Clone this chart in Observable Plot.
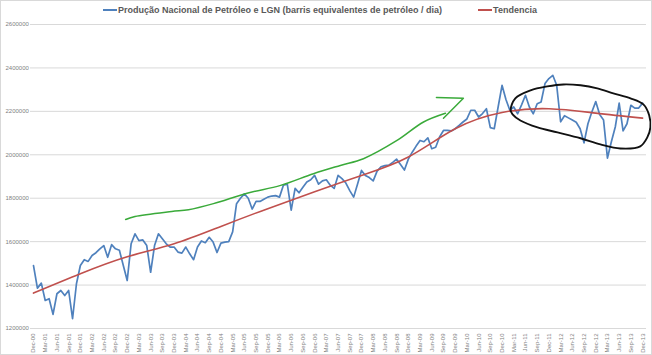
<!DOCTYPE html>
<html>
<head>
<meta charset="utf-8">
<script src="https://cdn.jsdelivr.net/npm/d3@7"></script>
<script src="https://cdn.jsdelivr.net/npm/@observablehq/plot@0.6"></script>
<style>
  html, body { margin: 0; padding: 0; background: #fff; }
  #wrap { position: relative; width: 652px; height: 355px; overflow: hidden; }
  #border { position: absolute; left: 0; top: 0; width: 650px; height: 353px; border: 1px solid #d9d9d9; pointer-events: none; }
  #legend { position: absolute; top: 5px; left: 103px; display: flex; align-items: center;
    font-family: "Liberation Sans", Arial, sans-serif; font-weight: bold; font-size: 9px; color: #595959; white-space: nowrap; }
  .sw { display: inline-block; width: 14px; height: 2px; margin-right: 1px; }
  svg { position: absolute; left: 0; top: 0; }
</style>
</head>
<body>
<div id="wrap">
  <div id="legend">
    <span class="sw" style="background:#4f81bd"></span><span id="l1">Produção Nacional de Petróleo e LGN (barris equivalentes de petróleo / dia)</span>
    <span class="sw" style="background:#c0504d; margin-left:36px"></span><span>Tendencia</span>
  </div>
  <div id="border"></div>
</div>
<script>
// Monthly production, Dec-00 (index 0) to Dec-13 (index 156)
const production = [
  1490000, 1386000, 1409000, 1329000, 1337000, 1265000, 1360000, 1375000, 1352000, 1375000,
  1245000, 1406000, 1490000, 1517000, 1509000, 1536000, 1549000, 1567000, 1582000, 1528000,
  1586000, 1567000, 1560000, 1490000, 1421000, 1590000, 1636000, 1605000, 1608000, 1582000,
  1459000, 1582000, 1636000, 1613000, 1590000, 1575000, 1575000, 1552000, 1547000, 1575000,
  1544000, 1517000, 1575000, 1603000, 1595000, 1620000, 1598000, 1550000, 1593000, 1598000,
  1600000, 1645000, 1775000, 1800000, 1820000, 1800000, 1750000, 1785000, 1785000, 1795000,
  1805000, 1810000, 1812000, 1805000, 1860000, 1865000, 1745000, 1845000, 1825000, 1850000,
  1875000, 1885000, 1905000, 1865000, 1880000, 1885000, 1860000, 1845000, 1905000, 1890000,
  1870000, 1835000, 1805000, 1865000, 1928000, 1905000, 1895000, 1880000, 1925000, 1945000,
  1950000, 1952000, 1965000, 1980000, 1955000, 1930000, 1980000, 2012000, 2040000, 2066000,
  2060000, 2078000, 2028000, 2035000, 2082000, 2112000, 2112000, 2110000, 2120000, 2135000,
  2151000, 2165000, 2205000, 2205000, 2174000, 2190000, 2212000, 2125000, 2120000, 2220000,
  2320000, 2255000, 2205000, 2220000, 2189000, 2230000, 2274000, 2220000, 2189000, 2235000,
  2243000, 2328000, 2351000, 2366000, 2320000, 2152000, 2180000, 2170000, 2160000, 2150000,
  2120000, 2055000, 2143000, 2197000, 2245000, 2185000, 2160000, 1985000, 2060000, 2128000,
  2238000, 2110000, 2143000, 2228000, 2215000, 2215000, 2238000
];

// Trend line read at yearly month indices
const trendMonth = [0, 12, 24, 36, 48, 60, 72, 84, 96, 108, 120, 132, 144, 156];
const trendValue = [1363000, 1452000, 1530000, 1590000, 1670000, 1752000, 1830000, 1905000,
                    1990000, 2120000, 2195000, 2212000, 2192000, 2169000];

// Hand-drawn green arrow (month index, value)
const greenMonth = [23.6, 26, 35.4, 39.7, 46.1, 54.7, 63.3, 71.7, 78.6, 84.5, 93.1, 99.9, 105.5];
const greenValue = [1702000, 1716000, 1739000, 1747000, 1775000, 1823000, 1859000, 1913000,
                    1951000, 1982000, 2066000, 2151000, 2191000];
const arrowMonth = [103.2, 110.1, 105];
const arrowValue = [2264000, 2260000, 2168000];

// Hand-drawn black ellipse (month index, value)
const ovalMonth = [122.2, 123.4, 127.3, 131.6, 135.7, 140.1, 144.4, 148.5, 152.9, 156.2, 157.7, 158,
                   157.2, 155.4, 150.3, 145.2, 140.1, 134.2, 129.1, 124.7, 122.7];
const ovalValue = [2205000, 2260000, 2297000, 2315000, 2324000, 2320000, 2306000, 2283000, 2260000,
                   2232000, 2181000, 2126000, 2080000, 2039000, 2029000, 2048000, 2076000, 2103000,
                   2126000, 2158000, 2186000];

const yTicks = [1200000, 1400000, 1600000, 1800000, 2000000, 2200000, 2400000, 2600000];
const tickLabels = [
  "Dec-00","Mar-01","Jun-01","Sep-01","Dec-01","Mar-02","Jun-02","Sep-02","Dec-02",
  "Mar-03","Jun-03","Sep-03","Dec-03","Mar-04","Jun-04","Sep-04","Dec-04",
  "Mar-05","Jun-05","Sep-05","Dec-05","Mar-06","Jun-06","Sep-06","Dec-06",
  "Mar-07","Jun-07","Sep-07","Dec-07","Mar-08","Jun-08","Sep-08","Dec-08",
  "Mar-09","Jun-09","Sep-09","Dec-09","Mar-10","Jun-10","Sep-10","Dec-10",
  "Mar-11","Jun-11","Sep-11","Dec-11","Mar-12","Jun-12","Sep-12","Dec-12",
  "Mar-13","Jun-13","Sep-13","Dec-13"
];
const tickMonths = tickLabels.map((_, k) => k * 3);

const prodData = production.map((v, i) => ({i, v}));
const trendData = trendMonth.map((m, k) => ({i: m, v: trendValue[k]}));
const greenData = greenMonth.map((m, k) => ({i: m, v: greenValue[k]}));
const arrowData = arrowMonth.map((m, k) => ({i: m, v: arrowValue[k]}));
const ovalData = ovalMonth.map((m, k) => ({i: m, v: ovalValue[k]}));

const chart = Plot.plot({
  width: 652,
  height: 355,
  marginLeft: 30,
  marginRight: 6,
  marginTop: 24,
  marginBottom: 27,
  style: {background: "transparent", fontFamily: "'Liberation Sans', Arial, sans-serif"},
  x: {domain: [-0.77, 157], axis: null},
  y: {domain: [1200000, 2600000], axis: null},
  marks: [
    Plot.gridY(yTicks, {stroke: "#d9d9d9", strokeOpacity: 1, strokeWidth: 1}),
    Plot.axisY(yTicks, {anchor: "left", tickSize: 0, tickPadding: 3, textAnchor: "start", dx: -22,
      fontSize: 6, fill: "#7f7f7f", label: null, tickFormat: d => String(d)}),
    Plot.axisX(tickMonths, {anchor: "bottom", tickSize: 0, tickPadding: 5, tickRotate: -90,
      fontSize: 6, fill: "#7f7f7f", label: null, tickFormat: (d, k) => tickLabels[tickMonths.indexOf(d)]}),
    Plot.line(prodData, {x: "i", y: "v", stroke: "#4f81bd", strokeWidth: 1.7, strokeLinejoin: "round"}),
    Plot.line(trendData, {x: "i", y: "v", stroke: "#c0504d", strokeWidth: 1.6, curve: "natural"}),
    Plot.line(greenData, {x: "i", y: "v", stroke: "#3aaa3a", strokeWidth: 1.5, curve: "catmull-rom"}),
    Plot.line(arrowData, {x: "i", y: "v", stroke: "#3aaa3a", strokeWidth: 1.5}),
    Plot.line(ovalData, {x: "i", y: "v", stroke: "#111", strokeWidth: 1.9, curve: "catmull-rom-closed"})
  ]
});
document.getElementById("wrap").insertBefore(chart, document.getElementById("legend"));
</script>
</body>
</html>
